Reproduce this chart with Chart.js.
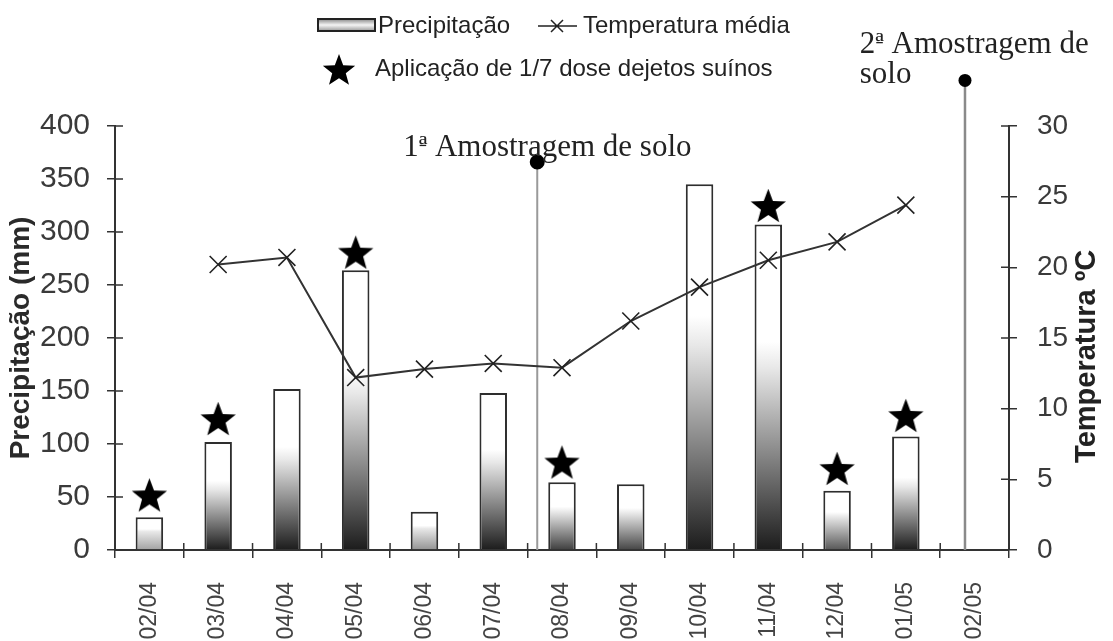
<!DOCTYPE html>
<html lang="pt">
<head>
<meta charset="UTF-8">
<title>Precipitação e temperatura</title>
<script src="https://cdn.jsdelivr.net/npm/chart.js"></script>
<style>
  * { margin: 0; padding: 0; }
  body { background: #fff; }
  .chartBox { width: 1113px; height: 641px; overflow: hidden; }
</style>
</head>
<body>
<div class="chartBox"><canvas id="myChart"></canvas></div>
<script>
// data
const months = ['02/04', '03/04', '04/04', '05/04', '06/04', '07/04', '08/04', '09/04', '10/04', '11/04', '12/04', '01/05', '02/05'];
const precipitation = [31, 102, 152, 264, 36, 148, 64, 62, 345, 307, 56, 107, null];
const temperature = [null, 20.2, 20.7, 12.2, 12.8, 13.2, 12.9, 16.2, 18.6, 20.5, 21.8, 24.4, null];
const manureApplication = [52, 124, null, 281, null, null, 83, null, null, 325, 77, 127, null];
const samplingX = [5.64, 11.86];
const samplingTop = [366, 443];

const SANS = '"Liberation Sans", Arial, sans-serif';
const SERIF = '"Liberation Serif", "Times New Roman", serif';

function starPath(g, cx, cy, R) {
  const r = R * 0.42;
  g.beginPath();
  for (let i = 0; i < 10; i++) {
    const a = -Math.PI / 2 + i * Math.PI / 5;
    const rr = i % 2 ? r : R;
    g.lineTo(cx + rr * Math.cos(a), cy + rr * Math.sin(a));
  }
  g.closePath();
}

function makeStar(R) {
  const c = document.createElement('canvas');
  const s = Math.ceil(2 * R + 2);
  c.width = s; c.height = s;
  const g = c.getContext('2d');
  g.fillStyle = '#000';
  starPath(g, s / 2, s / 2 + 0.0955 * R, R);
  g.fill();
  return c;
}
const starImg = makeStar(18.5);

// white top, darkening towards the base of each bar
function barGradient(context) {
  const chart = context.chart;
  if (!chart.chartArea || context.type !== 'data' || context.raw == null) return '#fff';
  const yScale = chart.scales.y;
  const top = yScale.getPixelForValue(context.raw);
  const bot = yScale.getPixelForValue(0);
  const h = bot - top;
  if (h <= 0) return '#fff';
  const d = Math.min(1, h / 80);
  const c = Math.round(255 - d * (255 - 28));
  const g = chart.ctx.createLinearGradient(0, top, 0, bot);
  g.addColorStop(0, '#fff');
  g.addColorStop(0.36, '#fff');
  g.addColorStop(0.44, '#e8e8e8');
  g.addColorStop(1, `rgb(${c},${c},${c})`);
  return g;
}

function ordinalLabel(ctx, num, rest, x, yBase, size) {
  const head = num + 'ª';
  ctx.fillText(head + rest, x, yBase);
  const w1 = ctx.measureText(num).width;
  const w2 = ctx.measureText(head).width;
  ctx.beginPath();
  ctx.moveTo(x + w1 + 1, yBase - size * 0.33);
  ctx.lineTo(x + w2 - 1, yBase - size * 0.33);
  ctx.stroke();
}

const overlay = {
  id: 'overlay',
  afterDraw(chart) {
    const ctx = chart.ctx;
    const { y, y1, xl } = chart.scales;
    const area = chart.chartArea;
    ctx.save();

    // inner half of the tick marks
    ctx.strokeStyle = '#333';
    ctx.lineWidth = 1.5;
    ctx.beginPath();
    y.ticks.forEach(t => {
      const py = y.getPixelForValue(t.value);
      ctx.moveTo(area.left, py); ctx.lineTo(area.left + 8, py);
    });
    y1.ticks.forEach(t => {
      const py = y1.getPixelForValue(t.value);
      ctx.moveTo(area.right - 8, py); ctx.lineTo(area.right, py);
    });
    for (let i = 0; i <= months.length; i++) {
      const px = xl.getPixelForValue(i - 0.5);
      ctx.moveTo(px, area.bottom - 7); ctx.lineTo(px, area.bottom);
    }
    ctx.stroke();

    // sampling dots that sit above the plot area
    ctx.fillStyle = '#000';
    [0, 1].forEach(k => {
      const pt = chart.getDatasetMeta(k).data[1];
      if (pt && pt.y < area.top) {
        ctx.beginPath();
        ctx.arc(pt.x, pt.y, 6.5, 0, Math.PI * 2);
        ctx.fill();
      }
    });

    // sampling labels
    ctx.fillStyle = '#222';
    ctx.strokeStyle = '#222';
    ctx.lineWidth = 1.3;
    ctx.font = '31px ' + SERIF;
    ctx.textAlign = 'left';
    ctx.textBaseline = 'alphabetic';
    ordinalLabel(ctx, '1', ' Amostragem de solo', xl.getPixelForValue(3.69), y.getPixelForValue(372), 31);
    ordinalLabel(ctx, '2', ' Amostragem de', xl.getPixelForValue(10.33), y.getPixelForValue(469), 31);
    ctx.fillText('solo', xl.getPixelForValue(10.33), y.getPixelForValue(441));

    // right axis title, reading upwards
    ctx.save();
    ctx.translate(area.right + 78, y1.getPixelForValue(13.7));
    ctx.rotate(-Math.PI / 2);
    ctx.font = 'bold 29px ' + SANS;
    ctx.textAlign = 'center';
    ctx.textBaseline = 'middle';
    ctx.fillStyle = '#222';
    ctx.fillText('Temperatura ºC', 0, 0);
    ctx.restore();

    // legend
    const g = ctx.createLinearGradient(0, 19, 0, 31);
    g.addColorStop(0, '#888');
    g.addColorStop(0.5, '#f4f4f4');
    g.addColorStop(1, '#999');
    ctx.fillStyle = g;
    ctx.fillRect(318, 19, 57, 12);
    ctx.strokeStyle = '#222';
    ctx.lineWidth = 2;
    ctx.strokeRect(318, 19, 57, 12);

    ctx.fillStyle = '#222';
    ctx.font = '24px ' + SANS;
    ctx.textAlign = 'left';
    ctx.textBaseline = 'middle';
    ctx.fillText('Precipitação', 378, 26);
    ctx.fillText('Temperatura média', 583, 26);
    ctx.fillText('Aplicação de 1/7 dose dejetos suínos', 375, 69);

    ctx.strokeStyle = '#222';
    ctx.lineWidth = 1.5;
    ctx.beginPath();
    ctx.moveTo(538, 26); ctx.lineTo(577, 26);
    ctx.moveTo(551, 20); ctx.lineTo(563, 32);
    ctx.moveTo(563, 20); ctx.lineTo(551, 32);
    ctx.stroke();

    ctx.fillStyle = '#000';
    starPath(ctx, 339, 71, 17);
    ctx.fill();

    ctx.restore();
  }
};

// setup
const data = {
  labels: months,
  datasets: [{
    type: 'line',
    label: 'Amostragem de solo',
    xAxisID: 'xl',
    yAxisID: 'y',
    data: [{ x: samplingX[0], y: 0 }, { x: samplingX[0], y: samplingTop[0] }],
    borderColor: '#9a9a9a',
    borderWidth: 2,
    pointRadius: [0, 6.5],
    pointBackgroundColor: '#000',
    pointBorderColor: '#000',
    clip: false,
    order: 4
  }, {
    type: 'line',
    label: 'Amostragem de solo 2',
    xAxisID: 'xl',
    yAxisID: 'y',
    data: [{ x: samplingX[1], y: 0 }, { x: samplingX[1], y: samplingTop[1] }],
    borderColor: '#8a8a8a',
    borderWidth: 2.5,
    pointRadius: [0, 6.5],
    pointBackgroundColor: '#000',
    pointBorderColor: '#000',
    clip: false,
    order: 4
  }, {
    type: 'bar',
    label: 'Precipitação',
    xAxisID: 'x',
    yAxisID: 'y',
    data: precipitation,
    backgroundColor: barGradient,
    borderColor: '#2e2e2e',
    borderWidth: 2,
    grouped: false,
    categoryPercentage: 1,
    barPercentage: 0.4,
    order: 5
  }, {
    type: 'line',
    label: 'Temperatura média',
    xAxisID: 'x',
    yAxisID: 'y1',
    data: temperature,
    borderColor: '#333',
    borderWidth: 2,
    pointStyle: 'crossRot',
    pointRadius: 12,
    pointBorderColor: '#222',
    pointBorderWidth: 1.6,
    tension: 0,
    order: 2
  }, {
    type: 'line',
    label: 'Aplicação de 1/7 dose dejetos suínos',
    xAxisID: 'x',
    yAxisID: 'y',
    data: manureApplication,
    showLine: false,
    pointStyle: starImg,
    order: 1
  }]
};

// config
const config = {
  data,
  plugins: [overlay],
  options: {
    responsive: true,
    maintainAspectRatio: false,
    animation: false,
    layout: { padding: { top: 126, left: 0, right: 0, bottom: 0 } },
    plugins: {
      legend: { display: false },
      tooltip: { enabled: false }
    },
    scales: {
      x: {
        type: 'category',
        offset: true,
        afterFit(scale) { scale.height = 91; },
        grid: { drawOnChartArea: false, color: '#333', lineWidth: 1.5, tickLength: 8, offset: true },
        border: { color: '#333', width: 2 },
        ticks: {
          minRotation: 90, maxRotation: 90, autoSkip: false, padding: 24,
          color: '#444', font: { family: SANS, size: 23 }
        }
      },
      xl: {
        type: 'linear',
        display: false,
        min: -0.5,
        max: 12.5
      },
      y: {
        position: 'left',
        min: 0, max: 400,
        afterFit(scale) { scale.width = 115; },
        grid: { drawOnChartArea: false, color: '#333', lineWidth: 1.5, tickLength: 8 },
        border: { color: '#333', width: 2 },
        ticks: { stepSize: 50, padding: 17, color: '#3a3a3a', font: { family: SANS, size: 30 } },
        title: {
          display: true, text: 'Precipitação (mm)', color: '#2a2a2a',
          padding: { top: 4, bottom: 0 },
          font: { family: SANS, size: 28, weight: 'bold' }
        }
      },
      y1: {
        position: 'right',
        min: 0, max: 30,
        afterFit(scale) { scale.width = 104; },
        grid: { drawOnChartArea: false, color: '#333', lineWidth: 1.5, tickLength: 8 },
        border: { color: '#333', width: 2 },
        ticks: { stepSize: 5, padding: 20, color: '#3a3a3a', font: { family: SANS, size: 28 } }
      }
    }
  }
};

// render
const myChart = new Chart(document.getElementById('myChart'), config);
</script>
</body>
</html>
